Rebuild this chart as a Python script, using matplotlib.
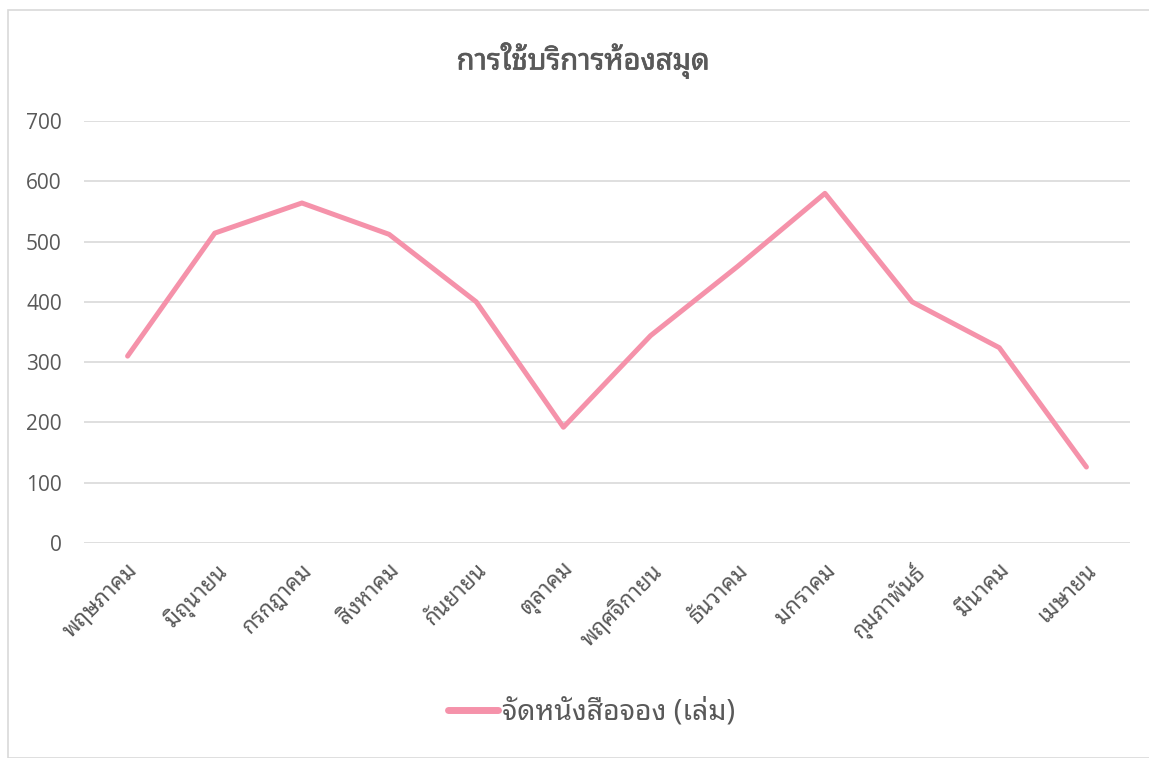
import matplotlib
matplotlib.use("Agg")
import matplotlib.pyplot as plt
from matplotlib.patches import Rectangle
import matplotlib.patheffects as pe

months = ["พฤษภาคม", "มิถุนายน", "กรกฎาคม", "สิงหาคม", "กันยายน", "ตุลาคม",
          "พฤศจิกายน", "ธันวาคม", "มกราคม", "กุมภาพันธ์", "มีนาคม", "เมษายน"]
values = [310, 514, 564, 512, 400, 192, 344, 459, 580, 400, 324, 126]
series_name = "จัดหนังสือจอง (เล่ม)"
title = "การใช้บริการห้องสมุด"
yticks = [0, 100, 200, 300, 400, 500, 600, 700]

FAM = ["Noto Sans Thai Looped", "Open Sans", "DejaVu Sans"]
plt.rcParams["font.family"] = FAM
TXT = "#595959"
GRID = "#d9d9d9"
LINE = "#F592AA"

W, H = 1149, 758
fig = plt.figure(figsize=(W / 100, H / 100), dpi=100)

# chart border
fig.patches.append(Rectangle((8 / W, 0), 1.2, 1 - 10 / H, transform=fig.transFigure,
                             fill=False, edgecolor=GRID, linewidth=1.2))

left, right = 84 / W, 1130 / W
bottom, top = (H - 543) / H, (H - 121) / H
ax = fig.add_axes([left, bottom, right - left, top - bottom])

x = list(range(len(months)))
ax.plot(x, values, color=LINE, linewidth=3.6, solid_capstyle="round",
        solid_joinstyle="round", label=series_name, zorder=3)

ax.set_xlim(-0.5, len(months) - 0.5)
ax.set_ylim(0, 700)
ax.set_yticks(yticks)
ax.set_yticklabels([str(v) for v in yticks], fontsize=15, color=TXT,
                   family=["Open Sans", "DejaVu Sans"])
ax.set_xticks(x)
ax.set_xticklabels(months, rotation=45, ha="right", va="top", rotation_mode="anchor",
                   fontsize=16, color=TXT)
ax.tick_params(axis="both", length=0)
ax.tick_params(axis="y", pad=16)
ax.tick_params(axis="x", pad=12)
ax.grid(axis="y", color=GRID, linewidth=1.2)
ax.set_axisbelow(True)
for s in ax.spines.values():
    s.set_visible(False)

fig.text(583 / W, 1 - 60 / H, title, ha="center", va="center", fontsize=21,
         fontweight="bold", color=TXT,
         path_effects=[pe.withStroke(linewidth=0.5, foreground=TXT)])

leg = fig.legend(loc="center", bbox_to_anchor=(592 / W, 1 - 712 / H), frameon=False,
                 fontsize=20.5, handlelength=1.75, handletextpad=0.15)
for t in leg.get_texts():
    t.set_color(TXT)
for l in leg.get_lines():
    l.set_linewidth(5)

fig.savefig("out.png", dpi=100)
